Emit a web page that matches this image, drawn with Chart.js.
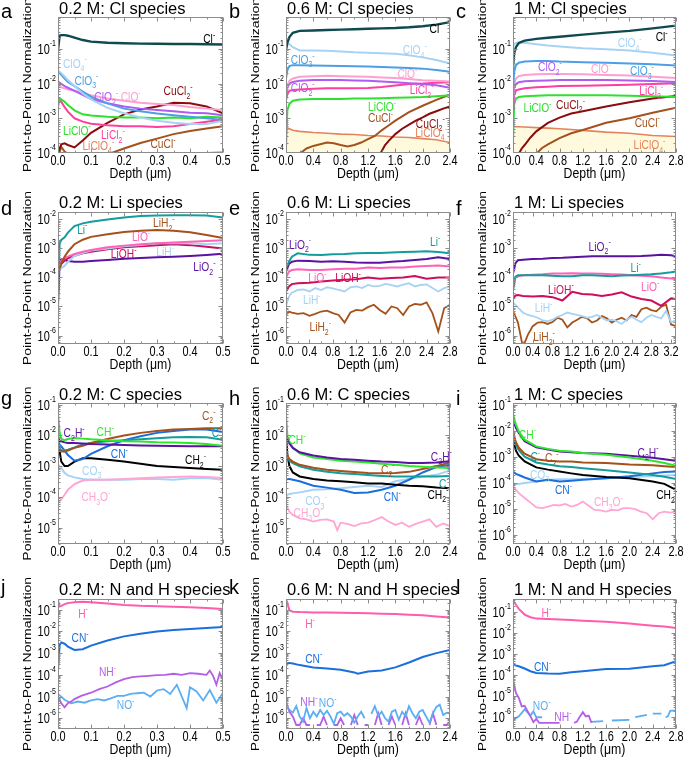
<!DOCTYPE html>
<html><head><meta charset="utf-8">
<script src="https://cdn.jsdelivr.net/npm/chart.js@4.4.1/dist/chart.umd.min.js"></script>
<style>
html,body{margin:0;padding:0;background:#fff;}
#fig{position:relative;width:685px;height:759px;overflow:hidden;background:#fff;}
#fig canvas{position:absolute;}
</style></head><body><div id="fig"></div>
<script>
// ---------------- tick labels ----------------
const ticks05 = [0, 0.1, 0.2, 0.3, 0.4, 0.5];
const ticks24 = [0, 0.4, 0.8, 1.2, 1.6, 2.0, 2.4];
const ticks28 = [0, 0.4, 0.8, 1.2, 1.6, 2.0, 2.4, 2.8];
const ticks32 = [0, 0.4, 0.8, 1.2, 1.6, 2.0, 2.4, 2.8, 3.2];
const decCl = [1e-4, 1e-3, 1e-2, 1e-1];
const decLi = [1e-6, 1e-5, 1e-4, 1e-3, 1e-2];
const decC = [1e-5, 1e-4, 1e-3, 1e-2, 1e-1];
const decC6 = [1e-6, 1e-5, 1e-4, 1e-3, 1e-2, 1e-1];
const decNH = [1e-6, 1e-5, 1e-4, 1e-3, 1e-2, 1e-1];

// ---------------- panel a : 0.2 M Cl species ----------------
const depthA = [0, 0.005, 0.01, 0.02, 0.03, 0.05, 0.075, 0.1, 0.15, 0.2, 0.25, 0.3, 0.35, 0.4, 0.45, 0.5];
const a_Cl = [0.09, 0.24, 0.25, 0.25, 0.24, 0.21, 0.18, 0.162, 0.15, 0.145, 0.142, 0.141, 0.139, 0.138, 0.136, 0.134];
const a_ClO4 = [0.0245, 0.022, 0.02, 0.016, 0.0126, 0.0085, 0.0052, 0.0035, 0.002, 0.0014, 0.00105, 0.00085, 0.00074, 0.00068, 0.00068, 0.00085];
const a_ClO3 = [0.022, 0.02, 0.0178, 0.014, 0.0112, 0.0085, 0.0059, 0.0042, 0.0027, 0.0019, 0.0016, 0.00138, 0.00123, 0.0011, 0.001, 0.00089];
const a_ClO2 = [0.0112, 0.0106, 0.0098, 0.0085, 0.0076, 0.0062, 0.0047, 0.0036, 0.0027, 0.0022, 0.0019, 0.00174, 0.0016, 0.00145, 0.0014, 0.00123];
const a_ClO = [0.0091, 0.0085, 0.0078, 0.0073, 0.0068, 0.0063, 0.0052, 0.0046, 0.0037, 0.0032, 0.0028, 0.0026, 0.0024, 0.0021, 0.0019, 0.00174];
const a_LiClO = [0.0021, 0.0037, 0.0035, 0.003, 0.0024, 0.0017, 0.0013, 0.0012, 0.0011, 0.00105, 0.00105, 0.001, 0.00105, 0.001, 0.0011, 0.00105];
const a_LiCl2 = [0.0027, 0.0035, 0.003, 0.0021, 0.00155, 0.001, 0.0008, 0.0007, 0.00063, 0.00059, 0.00059, 0.00056, 0.00059, 0.00068, 0.0008, 0.00093];
const a_CuCl2 = [0.000107, 0.000135, 0.000178, 0.00019, 0.00017, 0.000145, 0.00023, 0.00038, 0.00074, 0.0013, 0.0018, 0.0022, 0.0028, 0.0027, 0.0022, 0.00138];
const a_CuCl = [0.000095, 0.00011, 0.00015, 0.00011, 0.000093, 0.00008, 0.000075, 0.00008, 0.000091, 0.000135, 0.000195, 0.00026, 0.00035, 0.00043, 0.00051, 0.00059];
const a_LiClO4 = [0.00012, 0.00011, 0.0001, 0.00009, 0.000085, 0.00008, 0.00008, 0.000082, 0.000085, 0.00009, 0.00009, 0.000092, 0.000095, 0.000097, 0.0001, 0.000105];

// ---------------- panel b : 0.6 M Cl species ----------------
const depthB = [0, 0.02, 0.05, 0.1, 0.2, 0.4, 0.6, 0.8, 1.0, 1.2, 1.4, 1.6, 1.8, 2.0, 2.2, 2.4];
const b_Cl = [0.093, 0.15, 0.22, 0.29, 0.33, 0.34, 0.35, 0.36, 0.37, 0.38, 0.39, 0.4, 0.42, 0.45, 0.5, 0.59];
const b_ClO4 = [0.117, 0.14, 0.137, 0.112, 0.09, 0.09, 0.088, 0.084, 0.08, 0.078, 0.075, 0.072, 0.066, 0.057, 0.048, 0.038];
const b_ClO3 = [0.014, 0.0245, 0.032, 0.034, 0.034, 0.033, 0.0325, 0.032, 0.0315, 0.031, 0.030, 0.029, 0.028, 0.027, 0.0245, 0.022];
const b_ClO = [0.0058, 0.009, 0.012, 0.014, 0.0157, 0.0164, 0.0167, 0.0164, 0.016, 0.0157, 0.015, 0.0144, 0.0135, 0.0125, 0.012, 0.0115];
const b_ClO2 = [0.0046, 0.0077, 0.01, 0.0112, 0.012, 0.0126, 0.0126, 0.0126, 0.0123, 0.012, 0.0115, 0.011, 0.0103, 0.0098, 0.0089, 0.0076];
const b_LiCl2 = [0.0033, 0.005, 0.0062, 0.0065, 0.0068, 0.0071, 0.0073, 0.0073, 0.0073, 0.0075, 0.008, 0.0088, 0.0098, 0.01, 0.0105, 0.011];
const b_LiClO = [0.000145, 0.0017, 0.0026, 0.0032, 0.0035, 0.0036, 0.0036, 0.0036, 0.0037, 0.0037, 0.0038, 0.0039, 0.004, 0.0041, 0.0043, 0.0046];
const b_LiClO4 = [0.00055, 0.00053, 0.0005, 0.00045, 0.00042, 0.00039, 0.00037, 0.00035, 0.00034, 0.00032, 0.00031, 0.00029, 0.00028, 0.00026, 0.00024, 0.0002];
const depthB_CuCl = [0.2, 0.3, 0.4, 0.5, 0.6, 0.7, 0.8, 0.9, 1.0, 1.1, 1.2, 1.3, 1.4, 1.5, 1.6, 1.8, 2.0, 2.2, 2.4];
const b_CuCl = [0.000095, 0.000135, 0.00016, 0.000178, 0.0002, 0.00019, 0.00017, 0.000155, 0.00017, 0.0002, 0.00025, 0.00031, 0.00045, 0.00062, 0.00086, 0.0015, 0.0023, 0.0034, 0.0048];
const depthB_CuCl2 = [1.38, 1.45, 1.5, 1.6, 1.7, 1.8, 1.9, 2.0, 2.1, 2.2, 2.3, 2.4];
const b_CuCl2 = [0.000095, 0.00017, 0.00022, 0.00035, 0.0005, 0.00066, 0.00086, 0.00107, 0.00135, 0.0016, 0.0019, 0.0022];

// ---------------- panel c : 1 M Cl species ----------------
const depthC = [0, 0.02, 0.05, 0.1, 0.2, 0.4, 0.6, 0.8, 1.2, 1.6, 2.0, 2.4, 2.8];
const c_Cl = [0.031, 0.074, 0.112, 0.148, 0.174, 0.195, 0.21, 0.224, 0.257, 0.295, 0.33, 0.39, 0.47];
const c_ClO4 = [0.117, 0.137, 0.147, 0.15, 0.15, 0.137, 0.125, 0.117, 0.105, 0.098, 0.09, 0.078, 0.064];
const c_ClO3 = [0.0065, 0.022, 0.034, 0.04, 0.043, 0.045, 0.045, 0.043, 0.041, 0.04, 0.038, 0.036, 0.033];
const c_ClO = [0.0027, 0.01, 0.014, 0.0164, 0.0178, 0.0186, 0.019, 0.019, 0.0186, 0.0178, 0.017, 0.0157, 0.0146];
const c_ClO2 = [0.0021, 0.0073, 0.0098, 0.011, 0.0117, 0.012, 0.0123, 0.0126, 0.0126, 0.0126, 0.0123, 0.0119, 0.0112];
const c_LiCl2 = [0.0015, 0.0046, 0.0063, 0.0068, 0.0073, 0.0078, 0.0081, 0.0085, 0.0087, 0.0089, 0.0093, 0.0098, 0.0103];
const c_LiClO = [0.00022, 0.0026, 0.0036, 0.0041, 0.0043, 0.0045, 0.0046, 0.0046, 0.0046, 0.0046, 0.0045, 0.0043, 0.0041];
const c_LiClO4 = [0.00058, 0.00058, 0.00057, 0.00057, 0.00056, 0.00054, 0.00052, 0.0005, 0.00045, 0.0004, 0.00037, 0.00032, 0.0003];
const depthC_CuCl2 = [0.1, 0.15, 0.2, 0.3, 0.4, 0.6, 0.8, 1.0, 1.2, 1.6, 2.0, 2.4, 2.8];
const c_CuCl2 = [0.000095, 0.000135, 0.00017, 0.00028, 0.00042, 0.00074, 0.00105, 0.00138, 0.0016, 0.0022, 0.0029, 0.0037, 0.0044];
const depthC_CuCl = [0.4, 0.5, 0.6, 0.8, 1.0, 1.2, 1.6, 2.0, 2.4, 2.8];
const c_CuCl = [0.000095, 0.00014, 0.000178, 0.00027, 0.00037, 0.00046, 0.00074, 0.001, 0.00145, 0.002];

// ---------------- panel d : 0.2 M Li species ----------------
const depthD = [0, 0.005, 0.01, 0.02, 0.03, 0.05, 0.075, 0.1, 0.15, 0.2, 0.25, 0.3, 0.35, 0.4, 0.45, 0.5];
const d_Li = [0.000037, 0.0015, 0.00195, 0.0024, 0.0035, 0.0059, 0.0073, 0.0083, 0.01, 0.0117, 0.013, 0.0137, 0.014, 0.014, 0.0137, 0.0117];
const d_LiH2 = [0.000107, 0.00021, 0.00031, 0.00052, 0.00077, 0.0014, 0.002, 0.0025, 0.0031, 0.0037, 0.0041, 0.0043, 0.0041, 0.0036, 0.0029, 0.0023];
const d_LiO = [0.00021, 0.00031, 0.00038, 0.00046, 0.00052, 0.00064, 0.00077, 0.00089, 0.0011, 0.00125, 0.0014, 0.0015, 0.0016, 0.0017, 0.0018, 0.0019];
const d_LiOH = [0.000107, 0.00021, 0.00029, 0.00038, 0.00046, 0.00056, 0.00068, 0.00077, 0.00093, 0.0011, 0.0012, 0.0013, 0.0014, 0.0013, 0.00115, 0.001];
const d_LiH = [0.00014, 0.00018, 0.00021, 0.00025, 0.00035, 0.00055, 0.0007, 0.00084, 0.001, 0.0012, 0.0013, 0.0015, 0.0015, 0.0015, 0.0014, 0.0015];
const d_LiO2 = [0.00001, 0.00035, 0.00042, 0.0004, 0.00037, 0.00035, 0.00035, 0.00037, 0.0004, 0.00044, 0.00047, 0.0005, 0.00052, 0.00055, 0.00059, 0.00065];

// ---------------- panel e : 0.6 M Li species ----------------
const depthE = [0, 0.05, 0.1, 0.2, 0.4, 0.6, 0.8, 1.0, 1.2, 1.4, 1.6, 1.8, 2.0, 2.2, 2.4, 2.6, 2.8];
const e_Li = [0.00021, 0.00035, 0.00052, 0.00068, 0.0006, 0.00059, 0.00063, 0.00064, 0.00068, 0.00069, 0.0007, 0.00072, 0.00075, 0.00077, 0.0008, 0.00075, 0.00068];
const e_LiO2 = [0.00016, 0.00029, 0.00035, 0.00038, 0.00037, 0.00035, 0.00036, 0.00035, 0.00033, 0.00032, 0.00032, 0.00035, 0.00037, 0.0004, 0.00043, 0.0005, 0.00043];
const e_LiO = [0.0001, 0.00016, 0.00018, 0.00019, 0.00018, 0.00018, 0.00019, 0.0002, 0.0002, 0.00022, 0.00021, 0.00022, 0.00022, 0.00024, 0.00025, 0.00026, 0.00024];
const e_LiOH = [0.000033, 0.000049, 0.000059, 0.000063, 0.000066, 0.000072, 0.000078, 0.000083, 0.000087, 0.0001, 0.00009, 0.000095, 0.0001, 0.000112, 0.00009, 0.0001, 0.0001];
const depthE_fine = [0, 0.05, 0.1, 0.2, 0.3, 0.4, 0.5, 0.6, 0.7, 0.8, 0.9, 1.0, 1.1, 1.2, 1.3, 1.4, 1.5, 1.6, 1.7, 1.8, 1.9, 2.0, 2.1, 2.2, 2.3, 2.4, 2.5, 2.6, 2.7, 2.8];
const e_LiH = [1e-5, 2.2e-5, 3e-5, 3.7e-5, 3.9e-5, 3.3e-5, 4.3e-5, 3.7e-5, 4.6e-5, 4.2e-5, 3.7e-5, 3.3e-5, 4.6e-5, 4.9e-5, 4.3e-5, 5.5e-5, 4.9e-5, 5.1e-5, 6e-5, 5.4e-5, 4.9e-5, 5.7e-5, 6.3e-5, 4.9e-5, 5.5e-5, 5.8e-5, 4.3e-5, 3.3e-5, 4.3e-5, 4.9e-5];
const e_LiH2 = [5.1e-6, 6.7e-6, 6.2e-6, 5.6e-6, 5.9e-6, 4.8e-6, 5.6e-6, 6.7e-6, 7.2e-6, 5.9e-6, 5.1e-6, 2.8e-6, 6.2e-6, 7.6e-6, 7.2e-6, 9.5e-6, 1.15e-5, 7.6e-6, 5.6e-6, 1e-5, 8.7e-6, 5.1e-6, 1e-5, 1.23e-5, 1.15e-5, 1.38e-5, 5.9e-6, 1.38e-6, 8.7e-6, 1.15e-5];

// ---------------- panel f : 1 M Li species ----------------
const depthF = [0, 0.05, 0.1, 0.2, 0.4, 0.6, 0.8, 1.0, 1.2, 1.4, 1.6, 1.8, 2.0, 2.2, 2.4, 2.6, 2.8, 3.0, 3.2, 3.3];
const f_LiO2 = [0.000138, 0.00031, 0.00039, 0.00041, 0.00043, 0.00044, 0.00047, 0.00048, 0.0005, 0.00052, 0.00054, 0.00054, 0.00054, 0.00054, 0.00054, 0.00055, 0.00057, 0.0006, 0.00058, 0.00054];
const f_Li = [0.000035, 0.000106, 0.00012, 0.00012, 0.000118, 0.00012, 0.000115, 0.00011, 0.00011, 0.00012, 0.00012, 0.000115, 0.00011, 0.000117, 0.00012, 0.000124, 0.000128, 0.000138, 0.00015, 0.00016];
const f_LiO = [0.000062, 0.0001, 0.00011, 0.00012, 0.000125, 0.00013, 0.000138, 0.000138, 0.00014, 0.000138, 0.000138, 0.000135, 0.00013, 0.000127, 0.00012, 0.000115, 0.00011, 0.0001, 0.000092, 0.00009];
const f_LiOH = [1.8e-5, 2.4e-5, 2.5e-5, 2.3e-5, 2.2e-5, 2.3e-5, 2.1e-5, 1.6e-5, 3.2e-5, 2.7e-5, 2.6e-5, 2.3e-5, 2.6e-5, 3.1e-5, 2.2e-5, 1.8e-5, 1.6e-5, 1.05e-5, 1.9e-5, 1.8e-5];
const depthF_fine = [0, 0.1, 0.2, 0.3, 0.4, 0.5, 0.6, 0.7, 0.8, 0.9, 1.0, 1.1, 1.2, 1.3, 1.4, 1.5, 1.6, 1.7, 1.8, 1.9, 2.0, 2.1, 2.2, 2.3, 2.4, 2.5, 2.6, 2.7, 2.8, 2.9, 3.0, 3.1, 3.2, 3.3];
const f_LiH = [1.4e-5, 9.1e-6, 6.2e-6, 5.1e-6, 4.7e-6, 4.1e-6, 3.3e-6, 3.1e-6, 3.5e-6, 4.4e-6, 5.1e-6, 6.2e-6, 5.6e-6, 5.1e-6, 4.7e-6, 4.1e-6, 4.4e-6, 5.1e-6, 4.1e-6, 3.3e-6, 3.5e-6, 3.1e-6, 2.5e-6, 3.5e-6, 4.4e-6, 3.5e-6, 2.9e-6, 4.1e-6, 5.1e-6, 4.4e-6, 3.9e-6, 7.1e-6, 2.9e-6, 3.3e-6];
const f_LiH2 = [7.1e-6, 2.8e-6, 4e-7, 1.05e-6, 2.1e-6, 2.8e-6, 2.9e-6, 2.5e-6, 2.9e-6, 4.1e-6, 3.5e-6, 1.9e-6, 2.8e-6, 3.5e-6, 4.4e-6, 3.9e-6, 2.8e-6, 3.3e-6, 4.7e-6, 3.9e-6, 2.8e-6, 3.5e-6, 4.1e-6, 3.3e-6, 5.1e-6, 4.4e-6, 8.1e-6, 9.1e-6, 7.5e-6, 6.8e-6, 9.8e-6, 1.15e-5, 2.4e-6, 2.1e-6];

// ---------------- panel g : 0.2 M C species ----------------
const depthG = [0, 0.005, 0.01, 0.02, 0.03, 0.05, 0.075, 0.1, 0.15, 0.2, 0.25, 0.3, 0.35, 0.4, 0.45, 0.5];
const g_C2 = [0.0044, 0.0034, 0.003, 0.003, 0.0032, 0.0039, 0.0046, 0.0056, 0.0076, 0.0098, 0.012, 0.0138, 0.0153, 0.016, 0.017, 0.017];
const g_C = [0.0056, 0.0039, 0.0032, 0.0032, 0.0034, 0.004, 0.005, 0.0056, 0.0064, 0.0069, 0.0074, 0.008, 0.0086, 0.0088, 0.0086, 0.0072];
const g_CN = [0.0039, 0.005, 0.0044, 0.0032, 0.0023, 0.0015, 0.0017, 0.0025, 0.0044, 0.0069, 0.0093, 0.012, 0.0138, 0.0153, 0.0153, 0.0128];
const g_CH = [0.047, 0.012, 0.0076, 0.0069, 0.0076, 0.0082, 0.0078, 0.0074, 0.0069, 0.0064, 0.0063, 0.0059, 0.0058, 0.0056, 0.0052, 0.0046];
const g_C2H = [0.0082, 0.0064, 0.0064, 0.0059, 0.0056, 0.0056, 0.0054, 0.0052, 0.005, 0.0048, 0.0047, 0.0046, 0.0045, 0.0044, 0.0044, 0.0044];
const g_CH2 = [0.0105, 0.003, 0.0014, 0.001, 0.001, 0.0014, 0.0018, 0.0018, 0.0016, 0.0014, 0.0012, 0.001, 0.00093, 0.00086, 0.0008, 0.00076];
const g_CO3 = [0.0011, 0.001, 0.00086, 0.0006, 0.0005, 0.00043, 0.00038, 0.00036, 0.00036, 0.00036, 0.00038, 0.00038, 0.00036, 0.0004, 0.00041, 0.00036];
const g_CH3O = [0.000063, 0.00007, 0.000084, 0.000117, 0.00017, 0.00026, 0.00034, 0.00036, 0.00036, 0.00038, 0.0004, 0.00043, 0.00044, 0.00046, 0.00044, 0.00041];

// ---------------- panel h : 0.6 M C species ----------------
const depthH = [0, 0.02, 0.05, 0.1, 0.2, 0.4, 0.6, 0.8, 1.0, 1.2, 1.4, 1.6, 1.8, 2.0, 2.2, 2.4];
const h_CH = [0.047, 0.0093, 0.0059, 0.0039, 0.0026, 0.0019, 0.0017, 0.0015, 0.0014, 0.0013, 0.0012, 0.0011, 0.001, 0.00095, 0.0009, 0.00086];
const h_C2H = [0.0105, 0.0072, 0.0054, 0.0039, 0.0028, 0.0022, 0.0019, 0.0017, 0.0016, 0.0015, 0.0014, 0.00135, 0.00125, 0.00125, 0.0013, 0.00145];
const h_C2 = [0.0034, 0.0022, 0.0017, 0.0014, 0.0011, 0.00088, 0.00076, 0.00069, 0.00064, 0.0006, 0.00059, 0.0006, 0.00065, 0.0008, 0.001, 0.0013];
const h_C = [0.003, 0.0019, 0.0015, 0.00125, 0.00098, 0.00076, 0.00065, 0.00059, 0.00055, 0.00051, 0.00048, 0.00046, 0.00046, 0.00046, 0.00046, 0.00048];
const h_CH2 = [0.0105, 0.0023, 0.001, 0.00062, 0.00046, 0.00038, 0.00034, 0.00032, 0.0003, 0.00027, 0.00027, 0.00025, 0.00023, 0.00022, 0.0002, 0.00019];
const h_CO3 = [0.000098, 0.000117, 0.000125, 0.00013, 0.00014, 0.00017, 0.000177, 0.00019, 0.00021, 0.00023, 0.00021, 0.00032, 0.00038, 0.00046, 0.00052, 0.00072];
const h_CN = [0.00036, 0.00038, 0.00038, 0.00036, 0.00032, 0.00023, 0.0002, 0.00017, 0.000133, 0.00014, 0.00017, 0.00023, 0.00036, 0.00062, 0.00093, 0.0011];
const depthH_fine = [0, 0.05, 0.1, 0.2, 0.3, 0.4, 0.5, 0.6, 0.7, 0.75, 0.8, 0.9, 1.0, 1.1, 1.2, 1.3, 1.4, 1.5, 1.6, 1.7, 1.8, 1.9, 2.0, 2.1, 2.2, 2.3, 2.4];
const h_CH3O = [5.5e-5, 3.3e-5, 2.6e-5, 2e-5, 1.86e-5, 1.58e-5, 1.78e-5, 1.86e-5, 1.58e-5, 8.3e-6, 1.45e-5, 1.32e-5, 1.13e-5, 1.38e-5, 1.45e-5, 1.78e-5, 2.2e-5, 1.58e-5, 1.23e-5, 1.45e-5, 1.07e-5, 1.32e-5, 1.58e-5, 1.86e-5, 1.07e-5, 1.38e-5, 1.13e-5];

// ---------------- panel i : 1 M C species ----------------
const depthI = [0, 0.02, 0.05, 0.1, 0.2, 0.4, 0.6, 0.8, 1.0, 1.2, 1.6, 2.0, 2.4, 2.6, 2.8];
const i_CH = [0.048, 0.028, 0.017, 0.0093, 0.0045, 0.0025, 0.002, 0.0017, 0.0016, 0.0014, 0.0012, 0.00094, 0.0007, 0.00057, 0.00045];
const i_C2H = [0.031, 0.0197, 0.0127, 0.0081, 0.0039, 0.0023, 0.0019, 0.0016, 0.0015, 0.0014, 0.0013, 0.0011, 0.00091, 0.0008, 0.0007];
const i_C2 = [0.011, 0.006, 0.0036, 0.0022, 0.0013, 0.0008, 0.0007, 0.00066, 0.00065, 0.0006, 0.00057, 0.0005, 0.00047, 0.00043, 0.0004];
const i_C = [0.0095, 0.0052, 0.0029, 0.0018, 0.001, 0.0006, 0.0005, 0.00043, 0.0004, 0.00036, 0.0003, 0.00025, 0.0002, 0.00017, 0.00014];
const i_CH2 = [0.0071, 0.0034, 0.0017, 0.0011, 0.00066, 0.00039, 0.00032, 0.00027, 0.00023, 0.0002, 0.000166, 0.000148, 0.000112, 0.000091, 0.000054];
const i_CO3 = [0.000098, 0.000091, 0.000091, 0.000091, 0.000098, 0.000112, 0.00013, 0.000138, 0.000138, 0.00014, 0.00015, 0.000166, 0.00018, 0.00019, 0.0002];
const i_CN = [0.00027, 0.00025, 0.00022, 0.0002, 0.00016, 0.000112, 0.00013, 0.000112, 0.00012, 0.00013, 0.00015, 0.00018, 0.00023, 0.00026, 0.00027];
const depthI_fine = [0, 0.05, 0.1, 0.2, 0.3, 0.4, 0.5, 0.6, 0.7, 0.8, 0.9, 1.0, 1.1, 1.2, 1.3, 1.4, 1.5, 1.6, 1.7, 1.8, 1.9, 2.0, 2.1, 2.2, 2.3, 2.4, 2.5, 2.6, 2.7, 2.8];
const i_CH3O = [7.2e-5, 5.4e-5, 4e-5, 2.6e-5, 1.74e-5, 1.15e-5, 1.07e-5, 1.23e-5, 1.41e-5, 1.35e-5, 1.55e-5, 1.23e-5, 1.41e-5, 1.9e-5, 1.32e-5, 9.1e-6, 8.7e-6, 7.9e-6, 9.1e-6, 8.7e-6, 1.07e-5, 1.07e-5, 9.8e-6, 7.9e-6, 6.8e-6, 4e-6, 6.8e-6, 7.9e-6, 7.2e-6, 7.9e-6];

// ---------------- panel j : 0.2 M N and H species ----------------
const depthJ = [0, 0.005, 0.01, 0.02, 0.03, 0.05, 0.075, 0.1, 0.15, 0.2, 0.25, 0.3, 0.35, 0.4, 0.45, 0.5];
const j_H = [0.27, 0.142, 0.15, 0.18, 0.2, 0.22, 0.23, 0.22, 0.19, 0.165, 0.15, 0.142, 0.137, 0.128, 0.12, 0.107];
const j_CN = [0.00017, 0.0024, 0.0031, 0.0027, 0.002, 0.0014, 0.0015, 0.0022, 0.0038, 0.0059, 0.0078, 0.01, 0.0115, 0.0128, 0.0142, 0.0158];
const depthJ_NH = [0, 0.01, 0.02, 0.03, 0.04, 0.05, 0.07, 0.1, 0.125, 0.15, 0.175, 0.2, 0.225, 0.25, 0.275, 0.3, 0.325, 0.35, 0.375, 0.4, 0.425, 0.45, 0.46, 0.47, 0.48, 0.49, 0.5];
const j_NH = [1e-5, 4.9e-6, 3.2e-6, 4.9e-6, 5.9e-6, 7.6e-6, 1.07e-5, 1.5e-5, 2.2e-5, 2.9e-5, 4.5e-5, 6.3e-5, 7.8e-5, 8.4e-5, 8.9e-5, 9.6e-5, 1e-4, 1.12e-4, 1e-4, 1.2e-4, 1.12e-4, 1e-4, 1.58e-4, 8.9e-5, 3.5e-5, 1.2e-4, 5.9e-5];
const depthJ_NO = [0, 0.02, 0.04, 0.06, 0.08, 0.1, 0.12, 0.14, 0.16, 0.18, 0.2, 0.22, 0.24, 0.26, 0.28, 0.3, 0.32, 0.34, 0.36, 0.38, 0.39, 0.4, 0.42, 0.44, 0.46, 0.48, 0.5];
const j_NO = [1.32e-5, 7.1e-6, 4.9e-6, 5.9e-6, 5.2e-6, 6.6e-6, 7.6e-6, 6.6e-6, 8.3e-6, 1.07e-5, 1.07e-5, 1.32e-5, 1.42e-5, 1.5e-5, 1e-5, 1.9e-5, 2.2e-5, 1.32e-5, 3.5e-5, 6.6e-6, 2.9e-6, 2.7e-5, 1.7e-5, 6.6e-6, 2e-5, 5.2e-6, 1.5e-5];

// ---------------- panel k : 0.6 M N and H species ----------------
const depthK = [0, 0.02, 0.05, 0.1, 0.2, 0.4, 0.6, 0.8, 1.0, 1.05, 1.2, 1.4, 1.6, 1.8, 2.0, 2.2, 2.4];
const k_H = [0.31, 0.2, 0.093, 0.081, 0.078, 0.075, 0.075, 0.073, 0.07, 0.07, 0.068, 0.065, 0.063, 0.059, 0.055, 0.049, 0.044];
const k_CN = [0.00024, 0.00035, 0.00035, 0.00033, 0.00028, 0.00022, 0.000195, 0.00017, 0.000129, 0.000112, 0.000142, 0.00016, 0.00022, 0.00037, 0.00066, 0.001, 0.0014];
const depthK_fine = [0, 0.05, 0.1, 0.15, 0.2, 0.25, 0.3, 0.35, 0.4, 0.45, 0.5, 0.55, 0.6, 0.65, 0.7, 0.75, 0.8, 0.85, 0.9, 0.95, 1.0, 1.05, 1.1, 1.15, 1.2, 1.25, 1.3, 1.35, 1.4, 1.45, 1.5, 1.55, 1.6, 1.65, 1.7, 1.75, 1.8, 1.85, 1.9, 1.95, 2.0, 2.05, 2.1, 2.15, 2.2, 2.25, 2.3, 2.35, 2.4];
const k_NH = [5.9e-6, 2e-6, 1.2e-6, 4.9e-7, 4.9e-7, 1e-6, 4.9e-7, 4.9e-7, null, 4.9e-7, 4.9e-7, 1.2e-6, 4.9e-7, null, 4.9e-7, 4.9e-7, 1e-6, 4.9e-7, null, 4.9e-7, 1.4e-6, 4.9e-7, null, 4.9e-7, 4.9e-7, null, 4.9e-7, 1.7e-6, 4.9e-7, null, 4.9e-7, 1.2e-6, 4.9e-7, null, 4.9e-7, 1.7e-6, 4.9e-7, null, 4.9e-7, 1.2e-6, 4.9e-7, null, 4.9e-7, 1.7e-6, 4.9e-7, null, 4.9e-7, 4.9e-7, 7e-7];
const k_NO = [4.2e-6, 2.4e-6, 1.8e-6, 3.6e-6, 1.2e-6, 7e-7, 3e-6, 1e-6, 2e-6, 1.2e-6, 2.4e-6, 1.4e-6, 2.2e-6, 1.2e-6, 5.5e-7, 1.7e-6, 2e-6, 1.3e-6, 1.7e-6, 1.2e-6, 6.3e-7, 1.2e-6, 2e-6, 1e-6, null, 1.6e-6, 3.6e-6, 1.3e-6, 2e-6, 1e-6, 7e-7, 2e-6, 2.4e-6, 8.5e-7, 2e-6, 1.2e-6, 3.6e-6, 1.7e-6, 1e-6, 2e-6, 2.4e-6, 1.2e-6, 6.3e-7, 1.7e-6, 3.3e-6, 4.2e-6, 1.4e-6, 1.8e-6, 1.6e-6];

// ---------------- panel l : 1 M N and H species ----------------
const depthL = [0, 0.05, 0.1, 0.2, 0.3, 0.4, 0.6, 0.8, 1.0, 1.2, 1.6, 2.0, 2.4, 2.6, 2.8];
const l_H = [0.37, 0.23, 0.145, 0.078, 0.058, 0.05, 0.048, 0.045, 0.043, 0.04, 0.035, 0.029, 0.023, 0.021, 0.018];
const l_CN = [0.00032, 0.00029, 0.00027, 0.00021, 0.000155, 0.000129, 0.00012, 0.000117, 0.000138, 0.000155, 0.0002, 0.000205, 0.00027, 0.0003, 0.00047];
const depthL_NH = [0, 0.05, 0.1, 0.15, 0.2, 0.25, 0.3, 0.35, 0.4, 0.45, 0.5, 0.6, 0.7, 0.8, 0.9, 1.05, 1.1, 1.15, 1.2, 1.25, 1.3, 1.35];
const l_NH = [6.2e-5, 1.44e-5, 8.3e-6, 3.3e-6, 3.5e-6, 1.95e-6, 1.1e-6, 5.8e-7, 8.3e-7, 5.4e-7, 5.4e-7, 5.4e-7, 5.4e-7, 5.4e-7, null, 5.4e-7, 6.3e-7, 1.1e-6, 1.74e-6, 1.1e-6, 1.2e-6, 5.4e-7];
const depthL_NO = [0, 0.05, 0.1, 0.15, 0.2, 0.25, 0.3, 0.35, 0.4, 0.5, 0.55, 1.35, 1.55, 1.6, 1.7, 2.0, 2.05, 2.1, 2.3, 2.35, 2.4, 2.55, 2.6, 2.62, 2.66, 2.7, 2.8];
const l_NO = [7.2e-7, 9e-7, 1.1e-6, 1.6e-6, 2.4e-6, 1.7e-6, 1.2e-6, 1.9e-6, 1.0e-6, 1.0e-6, null, 6e-7, 6.5e-7, null, 7e-7, 7.5e-7, null, 1.0e-6, 1.3e-6, null, 1.5e-6, 1.5e-6, null, 1.0e-6, 1.1e-6, 2.0e-6, 2.1e-6];

// ---------------- styling ----------------
const TF = '"Liberation Sans", Arial, Helvetica, sans-serif';
const SQ = 0.78;           // horizontal squeeze of axis lettering, as in the source figure
const COL = {
  Cl:'#0e4a4e', ClO4:'#a6d3f5', ClO3:'#4c9fe6', ClO2:'#b05cf0', ClO:'#ff9fd0', LiCl2:'#ff3f9e',
  LiClO:'#30e030', CuCl2:'#8a0c0c', CuCl:'#a4521c', LiClO4:'#e4845c',
  Li:'#159c9c', LiH2:'#a4521c', LiO:'#ff62b6', LiOH:'#cc0e5c', LiH:'#a6d3f5', LiO2:'#5c12a0',
  C2:'#a4521c', C:'#159c9c', CN:'#1a6fdc', CH:'#2ee62e', C2H:'#5c12a0', CH2:'#000000', CO3:'#a6d3f5', CH3O:'#ffa6d4',
  H:'#ff5cac', NH:'#b45ee8', NO:'#5caef2'
};
const FILL = 'rgba(255,245,195,0.55)';
const PLOT_LEFT = [58, 286, 513], PLOT_RIGHT = [223, 450, 676];
const PLOT_TOP = [17, 212, 403, 599], PLOT_BOTTOM = [153, 344, 544, 729];
const LETTER_DY = [1, 3, 2, -5], TITLE_DY = [-3, -4, -3, -4];

function S(x, y, color, extra) { return Object.assign({x, y, color}, extra || {}); }

const panels = [
 {row:0,col:0,letter:'a',title:'0.2 M: Cl species',xMax:0.5,xTicks:ticks05,yMin:1e-4,yMax:0.83,yTicks:decCl,
  series:[S(depthA,a_Cl,COL.Cl,{w:2.4}),S(depthA,a_ClO4,COL.ClO4),S(depthA,a_ClO3,COL.ClO3),S(depthA,a_ClO2,COL.ClO2),S(depthA,a_ClO,COL.ClO),
          S(depthA,a_LiClO,COL.LiClO),S(depthA,a_LiCl2,COL.LiCl2),S(depthA,a_CuCl2,COL.CuCl2),S(depthA,a_CuCl,COL.CuCl),S(depthA,a_LiClO4,COL.LiClO4)],
  labels:[['Cl^-',0.44,0.195,'#000'],['ClO_4^-',0.015,0.039,COL.ClO4],['ClO_3^-',0.05,0.0126,COL.ClO3],['ClO_2^-',0.11,0.0042,COL.ClO2],['ClO^-',0.19,0.0042,COL.ClO],
          ['CuCl_2^-',0.32,0.0063,COL.CuCl2],['LiClO^-',0.015,0.00046,COL.LiClO],['LiCl_2^-',0.13,0.00034,COL.LiCl2],['LiClO_4^-',0.074,0.000166,COL.LiClO4],['CuCl^-',0.28,0.000186,COL.CuCl]]},
 {row:0,col:1,letter:'b',title:'0.6 M: Cl species',xMax:2.4,xTicks:ticks24,yMin:1e-4,yMax:0.83,yTicks:decCl,
  series:[S(depthB,b_Cl,COL.Cl,{w:2.4}),S(depthB,b_ClO4,COL.ClO4),S(depthB,b_ClO3,COL.ClO3),S(depthB,b_ClO,COL.ClO),S(depthB,b_ClO2,COL.ClO2),
          S(depthB,b_LiCl2,COL.LiCl2),S(depthB,b_LiClO,COL.LiClO),S(depthB_CuCl,b_CuCl,COL.CuCl),S(depthB_CuCl2,b_CuCl2,COL.CuCl2),S(depthB,b_LiClO4,COL.LiClO4,{fill:FILL,w:1.6})],
  labels:[['Cl^-',2.1,0.4,'#000'],['ClO_4^-',1.71,0.093,COL.ClO4],['ClO_3^-',0.07,0.05,COL.ClO3],['ClO^-',1.63,0.0195,COL.ClO],['ClO_2^-',0.07,0.0076,COL.ClO2],
          ['LiCl_2^-',1.81,0.0067,COL.LiCl2],['LiClO^-',1.2,0.0022,COL.LiClO],['CuCl^-',1.2,0.00107,COL.CuCl],['CuCl_2^-',1.9,0.00072,COL.CuCl2],['LiClO_4^-',1.89,0.00039,COL.LiClO4]]},
 {row:0,col:2,letter:'c',title:'1 M: Cl species',xMax:2.8,xTicks:ticks28,yMin:1e-4,yMax:0.83,yTicks:decCl,
  series:[S(depthC,c_Cl,COL.Cl,{w:2.4}),S(depthC,c_ClO4,COL.ClO4),S(depthC,c_ClO3,COL.ClO3),S(depthC,c_ClO,COL.ClO),S(depthC,c_ClO2,COL.ClO2),
          S(depthC,c_LiCl2,COL.LiCl2),S(depthC,c_LiClO,COL.LiClO),S(depthC_CuCl2,c_CuCl2,COL.CuCl2),S(depthC_CuCl,c_CuCl,COL.CuCl),S(depthC,c_LiClO4,COL.LiClO4,{fill:FILL,w:1.6})],
  labels:[['Cl^-',2.45,0.23,'#000'],['ClO_4^-',1.8,0.15,COL.ClO4],['ClO_2^-',0.43,0.031,COL.ClO2],['ClO^-',1.34,0.0275,COL.ClO],['ClO_3^-',2.01,0.0234,COL.ClO3],
          ['LiCl_2^-',2.17,0.0063,COL.LiCl2],['LiClO^-',0.18,0.002,COL.LiClO],['CuCl_2^-',0.74,0.0025,COL.CuCl2],['CuCl^-',2.09,0.00078,COL.CuCl],['LiClO_4^-',2.07,0.000174,COL.LiClO4]]},
 {row:1,col:0,letter:'d',title:'0.2 M: Li species',xMax:0.5,xTicks:ticks05,yMin:5.1e-7,yMax:0.018,yTicks:decLi,
  series:[S(depthD,d_Li,COL.Li),S(depthD,d_LiH2,COL.LiH2),S(depthD,d_LiO,COL.LiO),S(depthD,d_LiH,COL.LiH),S(depthD,d_LiOH,COL.LiOH),S(depthD,d_LiO2,COL.LiO2)],
  labels:[['Li^-',0.058,0.0046,COL.Li],['LiH_2^-',0.288,0.0077,COL.LiH2],['LiO^-',0.224,0.0025,COL.LiO],['LiOH^-',0.16,0.00068,COL.LiOH],['LiH^-',0.298,0.00078,COL.LiH],['LiO_2^-',0.41,0.00023,COL.LiO2]]},
 {row:1,col:1,letter:'e',title:'0.6 M: Li species',xMax:2.8,xTicks:ticks28,yMin:5.1e-7,yMax:0.018,yTicks:decLi,
  series:[S(depthE,e_Li,COL.Li),S(depthE,e_LiO2,COL.LiO2),S(depthE,e_LiO,COL.LiO),S(depthE,e_LiOH,COL.LiOH),S(depthE_fine,e_LiH,COL.LiH,{w:1.8}),S(depthE_fine,e_LiH2,COL.LiH2,{w:1.8})],
  labels:[['LiO_2^-',0.05,0.0014,COL.LiO2],['Li^-',2.46,0.0017,COL.Li],['LiO^-',0.38,0.0001,COL.LiO],['LiOH^-',0.84,0.0001,COL.LiOH],['LiH^-',0.29,1.7e-5,COL.LiH],['LiH_2^-',0.4,2e-6,COL.LiH2]]},
 {row:1,col:2,letter:'f',title:'1 M: Li species',xMax:3.3,xTicks:ticks32,yMin:5.1e-7,yMax:0.018,yTicks:decLi,
  series:[S(depthF,f_LiO2,COL.LiO2),S(depthF,f_Li,COL.Li),S(depthF,f_LiO,COL.LiO),S(depthF,f_LiOH,COL.LiOH),S(depthF_fine,f_LiH,COL.LiH,{w:1.8}),S(depthF_fine,f_LiH2,COL.LiH2,{w:1.8})],
  labels:[['LiO_2^-',1.53,0.0012,COL.LiO2],['Li^-',2.38,0.00022,COL.Li],['LiO^-',2.59,4.7e-5,COL.LiO],['LiOH^-',0.71,4e-5,COL.LiOH],['LiH^-',0.44,9.1e-6,COL.LiH],['LiH_2^-',0.41,9.1e-7,COL.LiH2]]},
 {row:2,col:0,letter:'g',title:'0.2 M: C species',xMax:0.5,xTicks:ticks05,yMin:2.95e-6,yMax:0.112,yTicks:decC,
  series:[S(depthG,g_CH,COL.CH),S(depthG,g_C2H,COL.C2H),S(depthG,g_C2,COL.C2),S(depthG,g_C,COL.C),S(depthG,g_CN,COL.CN),S(depthG,g_CH2,COL.CH2),S(depthG,g_CH3O,COL.CH3O),S(depthG,g_CO3,COL.CO3)],
  labels:[['C_2^-',0.436,0.044,COL.C2],['C^-',0.466,0.012,COL.C],['C_2H^-',0.017,0.012,COL.C2H],['CH^-',0.117,0.0129,COL.CH],['CN^-',0.16,0.0025,COL.CN],
          ['CH_2^-',0.385,0.0016,COL.CH2],['CO_3^-',0.073,0.00072,COL.CO3],['CH_3O^-',0.071,0.0001,COL.CH3O]]},
 {row:2,col:1,letter:'h',title:'0.6 M: C species',xMax:2.4,xTicks:ticks24,yMin:2.95e-6,yMax:0.112,yTicks:decC,
  series:[S(depthH,h_C2H,COL.C2H),S(depthH,h_CH,COL.CH),S(depthH,h_C2,COL.C2),S(depthH,h_C,COL.C),S(depthH,h_CH2,COL.CH2),S(depthH,h_CN,COL.CN),S(depthH,h_CO3,COL.CO3),S(depthH_fine,h_CH3O,COL.CH3O,{w:1.8})],
  labels:[['C_2H^-',2.12,0.0021,COL.C2H],['CH^-',0.035,0.0072,COL.CH],['C_2^-',1.39,0.00079,COL.C2],['C^-',2.24,0.00028,COL.C],['CN^-',1.43,0.0001,COL.CN],
          ['CH_2^-',2.07,0.000123,COL.CH2],['CO_3^-',0.28,7.6e-5,COL.CO3],['CH_3O^-',0.11,3.1e-5,COL.CH3O]]},
 {row:2,col:2,letter:'i',title:'1 M: C species',xMax:2.8,xTicks:ticks28,yMin:4.5e-7,yMax:0.115,yTicks:decC6,
  series:[S(depthI,i_CH,COL.CH),S(depthI,i_C2H,COL.C2H),S(depthI,i_C2,COL.C2),S(depthI,i_C,COL.C),S(depthI,i_CH2,COL.CH2),S(depthI,i_CN,COL.CN),S(depthI,i_CO3,COL.CO3),S(depthI_fine,i_CH3O,COL.CH3O,{w:1.8})],
  labels:[['CH^-',0.1,0.0074,COL.CH],['C_2H^-',2.14,0.0015,COL.C2H],['C^-',0.3,0.001,COL.C],['C_2^-',0.55,0.00093,COL.C2],['CO_3^-',0.29,0.00021,COL.CO3],
          ['CN^-',0.72,5.4e-5,COL.CN],['CH_2^-',2.46,3.5e-5,COL.CH2],['CH_3O^-',1.39,1.9e-5,COL.CH3O]]},
 {row:3,col:0,letter:'j',title:'0.2 M: N and H species',xMax:0.5,xTicks:ticks05,yMin:3.2e-7,yMax:0.31,yTicks:decNH,
  series:[S(depthJ,j_H,COL.H),S(depthJ,j_CN,COL.CN),S(depthJ_NH,j_NH,COL.NH,{w:1.8}),S(depthJ_NO,j_NO,COL.NO,{w:1.8})],
  labels:[['H^-',0.061,0.07,COL.H],['CN^-',0.041,0.0052,COL.CN],['NH^-',0.124,0.00014,COL.NH],['NO^-',0.178,4.2e-6,COL.NO]]},
 {row:3,col:1,letter:'k',title:'0.6 M: N and H species',xMax:2.4,xTicks:ticks24,yMin:3.2e-7,yMax:0.31,yTicks:decNH,
  series:[S(depthK,k_H,COL.H),S(depthK,k_CN,COL.CN),S(depthK_fine,k_NO,COL.NO,{w:1.8}),S(depthK_fine,k_NH,COL.NH,{w:1.8})],
  labels:[['H^-',0.28,0.022,COL.H],['CN^-',0.28,0.00059,COL.CN],['NH^-',0.21,5.9e-6,COL.NH],['NO^-',0.48,5.2e-6,COL.NO]]},
 {row:3,col:2,letter:'l',title:'1 M: N and H species',xMax:2.8,xTicks:ticks28,yMin:2.75e-7,yMax:0.43,yTicks:decNH,
  series:[S(depthL,l_H,COL.H),S(depthL,l_CN,COL.CN),S(depthL_NH,l_NH,COL.NH,{w:1.8}),S(depthL_NO,l_NO,COL.NO,{w:1.8})],
  labels:[['H^-',0.49,0.093,COL.H],['CN^-',0.36,0.00025,COL.CN],['NO^-',0.34,3.6e-6,COL.NO],['NH^-',0.71,1.1e-6,COL.NH]]}
];

function drawRich(ctx, text, x, y, size, color, sq){
  ctx.save(); ctx.fillStyle = color; ctx.textBaseline = 'alphabetic'; ctx.textAlign = 'left';
  ctx.translate(x, y + size * 0.36); ctx.scale(sq, 1);
  let cx = 0;
  for (let i = 0; i < text.length; i++){
    let ch = text[i], dy = 0, fs = size;
    if ((ch === '_' || ch === '^') && i + 1 < text.length){
      dy = ch === '_' ? size * 0.28 : -size * 0.42; fs = size * 0.68; ch = text[++i];
    }
    ctx.font = fs + 'px ' + TF;
    ctx.fillText(ch, cx, dy);
    cx += ctx.measureText(ch).width;
  }
  ctx.restore();
}
function sqText(ctx, text, x, y, size, align, sq){
  ctx.save(); ctx.translate(x, y); ctx.scale(sq, 1);
  ctx.font = size + 'px ' + TF; ctx.textAlign = align; ctx.textBaseline = 'alphabetic'; ctx.fillStyle = '#000';
  ctx.fillText(text, 0, 0); ctx.restore();
}

function decor(p){
  return {
    id: 'decor' + p.letter,
    afterDatasetsDraw(chart){
      const ctx = chart.ctx, a = chart.chartArea, xs = chart.scales.x, ys = chart.scales.y;
      p.labels.forEach(l => drawRich(ctx, l[0], xs.getPixelForValue(l[1]), ys.getPixelForValue(l[2]), 12.5, l[3], 0.82));
      ctx.save();
      const L = Math.round(a.left) + 0.5, R = Math.round(a.right) - 0.5, T = Math.round(a.top) + 0.5, B = Math.round(a.bottom) - 0.5;
      ctx.strokeStyle = '#8c8c8c'; ctx.lineWidth = 1;
      ctx.strokeRect(L, T, R - L, B - T);
      ctx.beginPath();
      const hTick = (v, len) => { if (v <= p.yMin || v >= p.yMax) return; const y = Math.round(ys.getPixelForValue(v)) + 0.5;
        ctx.moveTo(L, y); ctx.lineTo(L + len, y); ctx.moveTo(R, y); ctx.lineTo(R - len, y); };
      p.yTicks.forEach((v, idx) => {
        hTick(v, 4);
        for (let k = 2; k < 10; k++) hTick(v * k, 2);
        if (idx === 0) for (let k = 2; k < 10; k++) hTick(v * k / 10, 2);
      });
      const vTick = (v, len) => { const x = Math.round(xs.getPixelForValue(v)) + 0.5;
        ctx.moveTo(x, B); ctx.lineTo(x, B - len); ctx.moveTo(x, T); ctx.lineTo(x, T + len); };
      p.xTicks.forEach((v, idx) => {
        vTick(v, 4);
        if (idx > 0) vTick((v + p.xTicks[idx - 1]) / 2, 2);
      });
      ctx.stroke();
      ctx.restore();
    },
    afterDraw(chart){
      const ctx = chart.ctx, a = chart.chartArea, xs = chart.scales.x, ys = chart.scales.y;
      ctx.save();
      // x tick labels
      p.xTicks.forEach(v => sqText(ctx, v.toFixed(1), xs.getPixelForValue(v), a.bottom + 12, 14, 'center', SQ));
      // y tick labels 10^n
      p.yTicks.forEach(v => {
        const y = ys.getPixelForValue(v);
        const e = String(Math.round(Math.log10(v)));
        ctx.font = '9px ' + TF; const wE = ctx.measureText(e).width * SQ;
        const right = a.left - 2;
        sqText(ctx, e, right - wE, y - 3, 9, 'left', SQ);
        sqText(ctx, '10', right - wE, y + 5, 14, 'right', SQ);
      });
      // axis titles
      sqText(ctx, 'Depth (\u03BCm)', (a.left + a.right) / 2, a.bottom + 25, 15, 'center', 0.82);
      ctx.save();
      ctx.translate(a.left - 30, (a.top + a.bottom) / 2); ctx.rotate(-Math.PI / 2); ctx.scale(1, SQ);
      ctx.font = '14px ' + TF; ctx.textAlign = 'center'; ctx.textBaseline = 'middle'; ctx.fillStyle = '#000';
      ctx.fillText('Point-to-Point Normalization', 0, 0);
      ctx.restore();
      // panel letter and title
      ctx.fillStyle = '#000'; ctx.textAlign = 'left'; ctx.textBaseline = 'alphabetic';
      ctx.font = '20px ' + TF;
      ctx.fillText(p.letter, a.left - 57, a.top + LETTER_DY[p.row]);
      ctx.font = '16.5px ' + TF;
      ctx.fillText(p.title, a.left + 1, a.top + TITLE_DY[p.row]);
      ctx.restore();
    }
  };
}

const fig = document.getElementById('fig');
function makePanel(p){
  const L = PLOT_LEFT[p.col], R = PLOT_RIGHT[p.col], T = PLOT_TOP[p.row], B = PLOT_BOTTOM[p.row];
  const padL = 22, yW = 40, padT = 24, padR = 16, xH = 34;
  const w = (R - L) + padL + yW + padR, h = (B - T) + padT + xH;
  const cv = document.createElement('canvas');
  cv.width = w; cv.height = h;
  cv.style.left = (L - padL - yW) + 'px'; cv.style.top = (T - padT) + 'px';
  cv.style.width = w + 'px'; cv.style.height = h + 'px';
  fig.appendChild(cv);
  const datasets = p.series.map(s => ({
    data: s.x.map((xv, i) => ({x: xv, y: s.y[i]})),
    borderColor: s.color, borderWidth: s.w || 2, pointRadius: 0, tension: 0, spanGaps: false,
    fill: s.fill ? 'start' : false, backgroundColor: s.fill || 'transparent'
  }));
  new Chart(cv.getContext('2d'), {
    type: 'line',
    data: {datasets},
    options: {
      responsive: false, animation: false, devicePixelRatio: 1,
      layout: {padding: {left: padL, top: padT, right: padR, bottom: 0}},
      plugins: {legend: {display: false}, tooltip: {enabled: false}, title: {display: false}},
      events: [],
      scales: {
        x: {type: 'linear', min: 0, max: p.xMax, bounds: 'data',
            afterFit: s => { s.height = xH; },
            afterBuildTicks: s => { s.ticks = p.xTicks.map(v => ({value: v})); },
            grid: {display: false, drawTicks: false}, border: {display: false},
            ticks: {display: false}, title: {display: false}},
        y: {type: 'logarithmic', min: p.yMin, max: p.yMax, bounds: 'data',
            afterFit: s => { s.width = yW; },
            afterBuildTicks: s => { s.ticks = p.yTicks.map(v => ({value: v})); },
            grid: {display: false, drawTicks: false}, border: {display: false},
            ticks: {display: false}, title: {display: false}}
      }
    },
    plugins: [decor(p)]
  });
}
panels.forEach(makePanel);
</script></body></html>
